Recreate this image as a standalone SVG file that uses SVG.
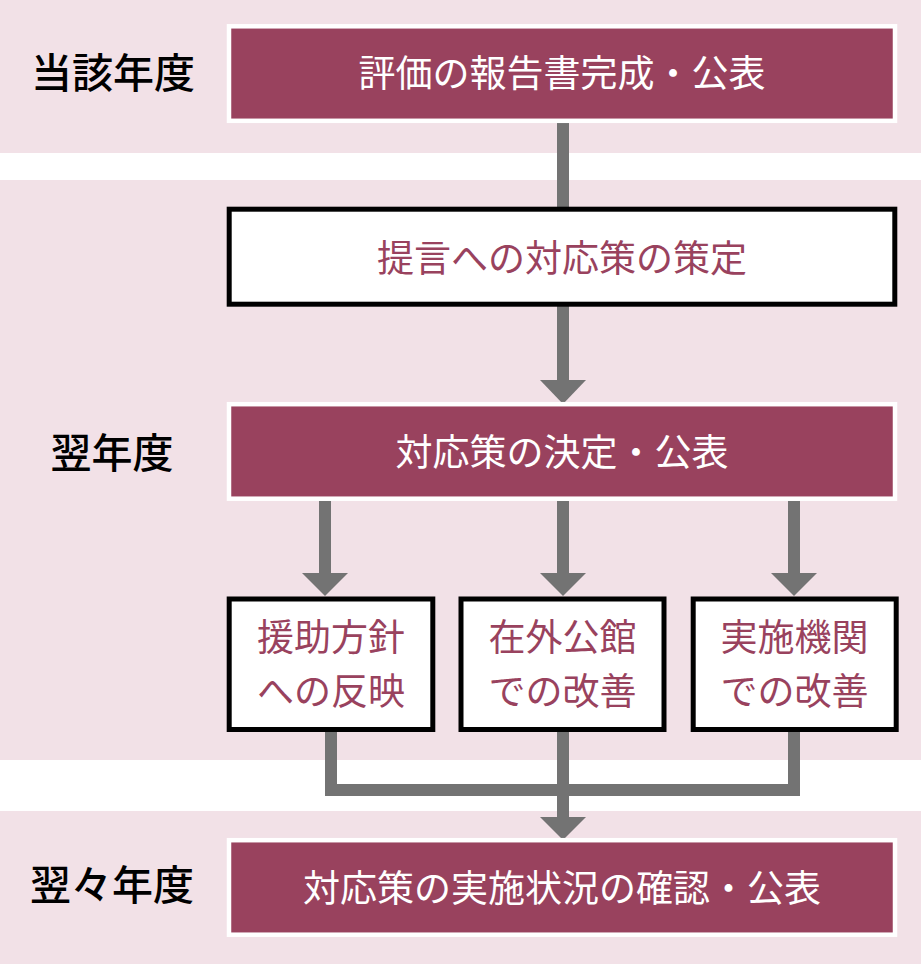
<svg xmlns="http://www.w3.org/2000/svg" width="921" height="964" viewBox="0 0 921 964">
<style>
.band{fill:#f2e1e7}
.dark{fill:#99425e;stroke:#ffffff;stroke-width:4.5}
.light{fill:#ffffff;stroke:#000000;stroke-width:5}
.t{font-family:"Noto Sans CJK JP","Noto Sans CJK SC",sans-serif;font-size:37px;text-anchor:middle}
.tw{fill:#ffffff}
.tp{fill:#99425e}
.lbl{font-family:"Noto Sans CJK JP","Noto Sans CJK SC",sans-serif;font-size:41px;text-anchor:middle;fill:#000000;font-weight:500}
.line{fill:none;stroke:#737373;stroke-width:12;stroke-linejoin:miter}
.head{fill:#737373}
</style>
<g id="background">
<rect class="band" x="0" y="0" width="921" height="153"/>
<rect class="band" x="0" y="180" width="921" height="580"/>
<rect class="band" x="0" y="811" width="921" height="153"/>
</g>
<g id="labels">
<text class="lbl" x="113" y="87.5">当該年度</text>
<text class="lbl" x="112" y="467.5">翌年度</text>
<text class="lbl" x="112" y="899.5">翌々年度</text>
</g>
<g id="connectors">
<line class="line" x1="563" y1="123" x2="563" y2="209"/>
<line class="line" x1="563" y1="306" x2="563" y2="382"/>
<polygon class="head" points="540,380 586,380 563,404"/>
<line class="line" x1="325" y1="501" x2="325" y2="575"/>
<polygon class="head" points="302,573 348,573 325,596"/>
<line class="line" x1="563" y1="501" x2="563" y2="575"/>
<polygon class="head" points="540,573 586,573 563,596"/>
<line class="line" x1="794" y1="501" x2="794" y2="575"/>
<polygon class="head" points="771,573 817,573 794,596"/>
<path class="line" d="M331,732 V790 H794 V732"/>
<line class="line" x1="563" y1="732" x2="563" y2="819"/>
<polygon class="head" points="540,817 586,817 563,840"/>
</g>
<g id="node-report">
<rect class="dark" x="229" y="26.3" width="666" height="94.5"/>
<text class="t tw" x="562" y="87">評価の報告書完成・公表</text>
</g>
<g id="node-draft">
<rect class="light" x="229.2" y="209.2" width="665.6" height="95"/>
<text class="t tp" x="562" y="271.5">提言への対応策の策定</text>
</g>
<g id="node-decide">
<rect class="dark" x="229" y="404.2" width="666" height="94.5"/>
<text class="t tw" x="562" y="465.5">対応策の決定・公表</text>
</g>
<g id="node-aid">
<rect class="light" x="229.2" y="599" width="203.6" height="130.5"/>
<text class="t tp" x="331" y="651">援助方針</text>
<text class="t tp" x="331" y="705">への反映</text>
</g>
<g id="node-embassy">
<rect class="light" x="461" y="599" width="203" height="130.5"/>
<text class="t tp" x="562.5" y="651">在外公館</text>
<text class="t tp" x="562.5" y="705">での改善</text>
</g>
<g id="node-agency">
<rect class="light" x="693.2" y="599" width="203" height="130.5"/>
<text class="t tp" x="794.5" y="651">実施機関</text>
<text class="t tp" x="794.5" y="705">での改善</text>
</g>
<g id="node-confirm">
<rect class="dark" x="229" y="840.2" width="666" height="94.5"/>
<text class="t tw" x="562" y="902">対応策の実施状況の確認・公表</text>
</g>
</svg>
